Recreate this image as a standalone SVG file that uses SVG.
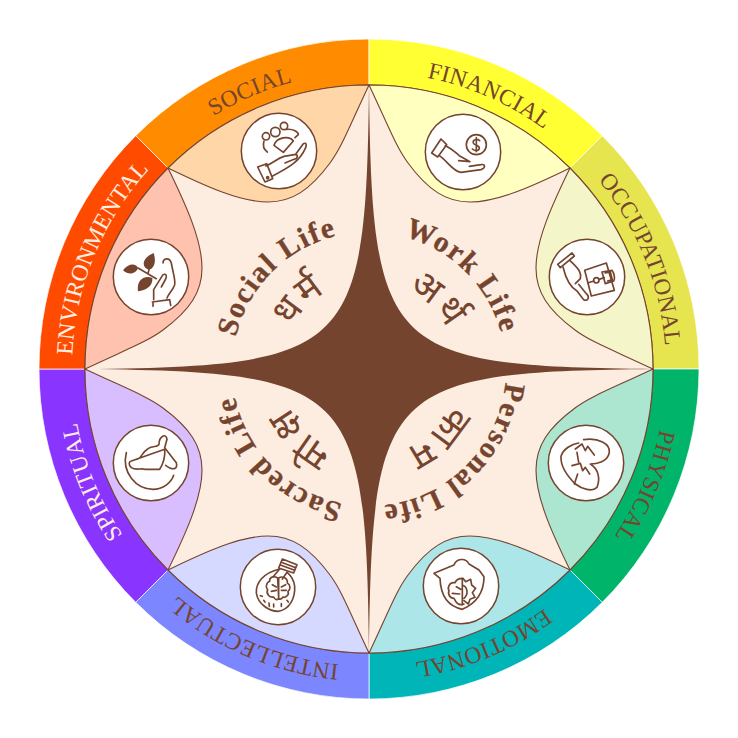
<svg xmlns="http://www.w3.org/2000/svg" width="738" height="738" viewBox="0 0 738 738">
<style>
.seg{stroke:#fff;stroke-width:.7}
.petal{stroke:#75442f;stroke-width:1.1}
.disc{fill:#fff;stroke:#75442f;stroke-width:1.5}
.ic{fill:none;stroke:#75442f;stroke-width:5;stroke-linejoin:round;stroke-linecap:round}
.icf{fill:#75442f;stroke:none}
.rl{font-family:"Liberation Serif",serif;font-size:23.5px;letter-spacing:.3px;text-anchor:middle;fill:#75442f}
.lt{fill:#ffeee0}
.cl{font-family:"Liberation Serif",serif;font-size:29.5px;font-weight:700;text-anchor:middle;fill:#75442f;stroke:#75442f;stroke-width:.3;letter-spacing:1.6px}
.dv{font-family:"Noto Sans","Noto Sans Devanagari","Lohit Devanagari",sans-serif;font-size:38px;letter-spacing:3px;text-anchor:middle;fill:#75442f}
</style>
<defs>
<path id="r" d="M369,72A297,297 0 1 1 368.99,72Z"/>
<path id="c" d="M369,232A137,137 0 1 1 368.99,232Z"/>
<path id="d" d="M369,281A88,88 0 1 1 368.99,281Z"/>
<path id="p" d="M369,85C350,125 342,147 330,163C310,190 292,202 268,202C240,202 205,186 168,168A284,284 0 0 1 369,85Z"/>
</defs>
<g id="ring">
<path class="seg" fill="#ff8c00" d="M369,369L135.7,135.7A330,330 0 0 1 369,39Z"/>
<path class="seg" fill="#ffff33" d="M369,369L369,39A330,330 0 0 1 602.3,135.7Z"/>
<path class="seg" fill="#e6e44f" d="M369,369L602.3,135.7A330,330 0 0 1 699,369Z"/>
<path class="seg" fill="#00b56a" d="M369,369L699,369A330,330 0 0 1 602.3,602.3Z"/>
<path class="seg" fill="#00b5b8" d="M369,369L602.3,602.3A330,330 0 0 1 369,699Z"/>
<path class="seg" fill="#7b86ff" d="M369,369L369,699A330,330 0 0 1 135.7,602.3Z"/>
<path class="seg" fill="#8a34ff" d="M369,369L135.7,602.3A330,330 0 0 1 39,369Z"/>
<path class="seg" fill="#ff4b00" d="M369,369L39,369A330,330 0 0 1 135.7,135.7Z"/>
</g>
<circle id="hub" cx="369" cy="369" r="284" fill="#fdece0" stroke="#75442f" stroke-width="1.1"/>
<g id="petals">
<use href="#p" class="petal" fill="#ffd6a8"/>
<use href="#p" class="petal" fill="#ffffc0" transform="matrix(-1 0 0 1 738 0)"/>
<use href="#p" class="petal" fill="#f5f5ca" transform="rotate(90 369 369)"/>
<use href="#p" class="petal" fill="#ace6d0" transform="matrix(0 -1 -1 0 738 738)"/>
<use href="#p" class="petal" fill="#ace6e8" transform="matrix(-1 0 0 -1 738 738)"/>
<use href="#p" class="petal" fill="#d5d9ff" transform="matrix(1 0 0 -1 0 738)"/>
<use href="#p" class="petal" fill="#d9beff" transform="rotate(-90 369 369)"/>
<use href="#p" class="petal" fill="#ffc2ae" transform="matrix(0 1 1 0 0 0)"/>
</g>
<path id="star" fill="#75442f" d="M369,85C372,352 386,366 653,369C386,372 372,386 369,653C366,386 352,372 85,369C352,366 366,352 369,85Z"/>
<g id="labels">
<text class="rl"><textPath href="#r" startOffset="93.55%">SOCIAL</textPath></text>
<text class="rl"><textPath href="#r" startOffset="6.6%">FINANCIAL</textPath></text>
<text class="rl"><textPath href="#r" startOffset="18.9%">OCCUPATIONAL</textPath></text>
<text class="rl"><textPath href="#r" startOffset="31.4%">PHYSICAL</textPath></text>
<text class="rl"><textPath href="#r" startOffset="43.75%">EMOTIONAL</textPath></text>
<text class="rl"><textPath href="#r" startOffset="56.4%">INTELLECTUAL</textPath></text>
<text class="rl lt"><textPath href="#r" startOffset="68.85%">SPIRITUAL</textPath></text>
<text class="rl lt"><textPath href="#r" startOffset="81.25%">ENVIRONMENTAL</textPath></text>
<text class="cl"><textPath href="#c" startOffset="87.5%">Social Life</textPath></text>
<text class="cl"><textPath href="#c" startOffset="12.5%">Work Life</textPath></text>
<text class="cl"><textPath href="#c" startOffset="37.5%">Personal Life</textPath></text>
<text class="cl"><textPath href="#c" startOffset="62.5%">Sacred Life</textPath></text>
<text class="dv"><textPath href="#d" startOffset="87.5%">धर्म</textPath></text>
<text class="dv"><textPath href="#d" startOffset="12.5%">अर्थ</textPath></text>
<text class="dv"><textPath href="#d" startOffset="37.5%">काम</textPath></text>
<text class="dv"><textPath href="#d" startOffset="62.5%">मोक्ष</textPath></text>
</g>
<g id="n-social" transform="translate(279 151)"><circle class="disc" r="37.7"/>
<g transform="scale(.3333) translate(-447 -362)" class="ic">
<path d="M383,410L410,400L428,445L405,455Z"/><circle cx="413" cy="442" r="3"/>
<path d="M407,407C430,398 440,385 462,378L497,372C505,375 503,385 492,387L465,398M497,372L520,340C530,335 530,345 527,352C510,392 480,410 428,437"/>
<circle cx="408" cy="318" r="11"/><circle cx="436" cy="305" r="14"/><circle cx="462" cy="287" r="11"/>
<path d="M402,332C398,345 402,358 412,365M432,345C440,320 478,315 490,332L460,366Z M470,297C490,295 505,305 505,313L495,322"/>
</g></g>
<g id="n-financial" transform="translate(463 152)"><circle class="disc" r="37.7"/>
<g transform="scale(.3333) translate(-281 -367)" class="ic">
<circle cx="321" cy="345" r="30"/>
<path d="M331,333C322,326 309,330 312,340C315,348 330,346 330,355C330,364 316,365 309,358M321,324V366"/>
<path d="M215,328L187,370L205,382L232,345Z"/>
<path d="M228,348C245,355 258,368 270,378L302,396L268,393M210,378C235,395 250,425 275,428L335,420C350,415 348,402 335,405L300,410"/>
</g></g>
<g id="n-occupational" transform="translate(587 277)"><circle class="disc" r="37.7"/>
<g transform="scale(.3333) translate(-350 -440)" class="ic">
<path d="M262,402L305,368L312,377L270,412Z"/>
<path d="M278,410C285,440 300,470 320,482L340,508C355,515 358,498 348,490L325,462M298,390C320,410 335,425 330,445L315,460"/>
<path d="M343,420L408,398L432,480L363,497Z"/>
<path d="M395,425L425,420C432,430 435,445 430,452L405,460Z M405,428L420,425L426,448L412,452"/>
<circle cx="378" cy="450" r="8"/><path d="M352,458L370,452M386,447L402,442"/>
</g></g>
<g id="n-physical" transform="translate(586 463)"><circle class="disc" r="37.7"/>
<g transform="scale(.3333) translate(-347 -282)" class="ic">
<path d="M340,212C385,205 420,225 417,250C412,280 375,285 360,285C385,300 390,330 380,355C365,370 335,360 315,345C290,320 270,290 272,262C278,240 305,225 325,222"/>
<path d="M315,240L335,225L345,245L352,232L372,258M320,250L325,280M305,290L330,283L337,305L345,295L358,315M312,345L322,315"/>
</g></g>
<g id="n-emotional" transform="translate(461 586)"><circle class="disc" r="37.7"/>
<g transform="scale(.3333) translate(-276 -348)" class="ic">
<path d="M195,310L255,285C262,265 290,262 300,282L330,300L345,320C345,370 320,400 280,418C240,410 215,380 213,325Z"/>
<path d="M282,325L290,335L305,328L308,345L320,355L310,368L318,382L303,388L298,402L285,392M280,345C295,350 300,372 285,385M280,325C268,325 262,328 258,338C240,335 235,355 240,362C235,375 245,385 255,385C262,400 272,408 285,402M280,325V405M262,350L275,358M250,370L272,372"/>
</g></g>
<g id="n-intellectual" transform="translate(278 587)"><circle class="disc" r="37.7"/>
<g transform="scale(.3333) translate(-445 -352)" class="ic">
<path d="M450,298C400,310 378,340 380,370C385,405 420,425 445,425C480,420 497,385 495,350C492,325 480,315 472,308"/>
<path d="M458,268L502,285L492,310L447,295Z M455,278L498,294M452,286L495,302"/>
<path d="M450,298L430,322M472,308L458,328"/>
<path d="M444,325C430,315 418,325 420,335C408,340 408,355 414,360C408,372 420,385 432,382C436,392 445,392 447,385ZM447,325C458,318 475,325 473,340C483,345 483,360 475,365C480,378 465,385 460,382C455,390 448,390 447,385M447,325V385M428,345L440,352M425,365L440,362M468,345L455,352M470,362L455,362"/>
<path d="M392,378L398,380M402,392L406,397M418,400L419,410M432,403L432,412M455,402L455,410M472,392L476,397"/>
</g></g>
<g id="n-spiritual" transform="translate(151 463)"><circle class="disc" r="37.7"/>
<g transform="scale(.3333) translate(-364 -281)" class="ic">
<path d="M290,250C275,310 320,360 370,360C400,360 425,340 432,318"/>
<path d="M305,275L320,270C335,270 335,250 355,238C370,228 385,235 388,225C388,200 410,190 412,210L405,235L440,280C445,300 430,305 408,288M405,240C408,260 400,285 390,300L345,300C335,295 320,305 305,295C295,285 298,277 305,275Z"/>
</g></g>
<g id="n-environmental" transform="translate(151 277)"><circle class="disc" r="37.7"/>
<g transform="scale(.3333) translate(-364 -442)">
<path class="icf" d="M280,422C295,400 320,400 325,415C320,430 300,440 280,422Z M372,370C380,395 375,415 358,420C335,415 335,385 372,370Z M325,485C320,450 345,435 368,445C370,470 350,480 325,485Z"/>
<g class="ic"><path d="M325,415L380,447M358,420L355,432"/>
<path d="M400,400C400,385 420,382 425,400C430,430 438,450 435,465C430,480 415,495 412,505M372,510V480L400,435C410,430 412,440 408,448L395,472M368,517L420,510M370,530V517M423,527L420,510"/></g>
</g></g>
</svg>
